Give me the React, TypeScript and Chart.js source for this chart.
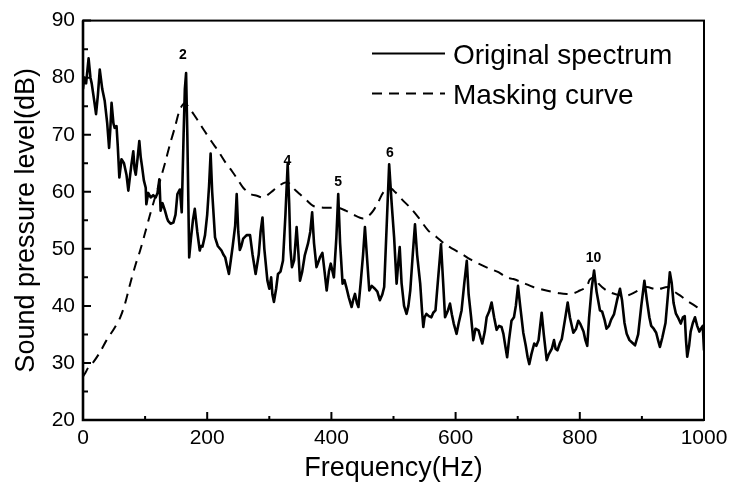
import React, { useEffect, useRef } from "react";
import { Chart, registerables } from "chart.js";

Chart.register(...registerables);

// ---- Data ----
const spectrumFreq = [
  0, 2, 5, 9, 12, 14, 18, 21, 24, 27, 31, 35, 39, 42, 44, 46, 49, 51, 54, 56,
  58.5, 62, 66, 70, 73, 76, 78, 81, 83, 85, 88, 90.7, 93, 95, 98, 101, 102, 105, 109, 113,
  117, 120, 123, 125, 128, 132, 135, 137, 141, 145.5, 149, 152, 156, 159, 162, 164, 166, 168, 171, 174,
  177, 180, 184, 188, 190, 192.5, 196.5, 200, 203, 205.5, 208, 212.6, 217, 223, 226, 229, 232, 235, 238, 241,
  245, 247.5, 250, 252.5, 255, 258, 263.5, 269, 273, 278, 283, 286, 289, 292, 297, 300, 303, 305, 307.5, 311,
  314, 318, 322, 326, 329.6, 332, 334, 336.5, 340, 344, 347, 349.4, 353, 357, 362.5, 366, 369, 372, 376, 380,
  382, 385.5, 389, 392.4, 396, 399, 404, 408, 411, 414, 418, 421, 424, 428, 432.6, 435, 438, 441, 443.5, 447,
  451, 454, 457, 461, 465, 470, 474, 478, 482, 485, 489, 493, 497, 501, 505, 508, 510, 513, 517, 521,
  524, 527, 531, 534.6, 538, 543, 546, 548, 550, 553, 557, 561, 564, 567.6, 572, 576.5, 580, 583, 587, 591,
  594, 597, 601.6, 605, 609.6, 614, 618, 621, 625, 628.5, 632, 637, 640, 643, 647, 650, 654, 658, 662, 666,
  670, 674, 677, 680, 683, 686, 690, 694, 697, 700.5, 704, 709, 713, 716, 718.7, 722, 726.6, 730, 733.6, 738.6,
  742, 746.7, 750, 755, 758.5, 761, 764, 768, 771, 776, 780.5, 784, 789.6, 794, 797.6, 801, 806, 809, 812, 815,
  819, 823, 827, 832.5, 836, 840, 843, 847, 850.5, 855, 860, 864.7, 868, 872, 875.5, 880, 885, 889, 894, 899,
  904, 908, 912, 915, 919, 923, 926, 929, 933, 938, 942, 945, 948, 951, 954.6, 958, 962.6, 966, 969, 971,
  973, 976, 978.5, 982, 985.5, 989, 992.5, 995, 998, 1000
];
const spectrumLevel = [
  78, 80, 79, 83.4, 80, 79, 76, 73.6, 77, 81.4, 78, 75.9, 72, 67.7, 71, 75.6, 72, 71.2, 71.5, 68,
  62.5, 65.7, 65, 63, 60.2, 63, 64.8, 67.1, 64, 63, 66, 68.9, 66, 64.5, 62, 60.7, 57.8, 59.8, 59, 59.4,
  59, 59.8, 62.2, 56.7, 58, 56.7, 55.5, 54.9, 54.4, 54.6, 56, 59.6, 60.4, 56.4, 70, 78, 80.8, 70, 48.5, 52,
  55, 57, 53, 49.7, 50.5, 50.4, 52.4, 56, 61, 66.7, 60, 52, 50.5, 49.7, 49, 48.5, 47, 45.6, 48, 50.4,
  54, 59.6, 53, 49.8, 50.5, 51.8, 52.4, 52.4, 49, 45.6, 49, 53, 55.5, 50, 44.4, 43, 45, 42, 40.7, 43,
  45.6, 46, 47.9, 56, 64.9, 58, 50, 46.8, 48, 53.8, 49, 44.4, 46, 48.8, 51, 53, 56.4, 51, 46.8, 48,
  48.6, 49.3, 46, 42.7, 46, 47.4, 45, 52, 59.6, 51, 43.9, 44.5, 43.3, 41.5, 39.8, 41, 42.1, 40.5, 39.8, 43.9,
  49, 53.8, 49, 42.7, 43.5, 43, 42.5, 41, 42, 43.3, 54, 64.8, 58, 52, 43.9, 48, 50.3, 44, 40, 38.6,
  40, 42.7, 49, 54.3, 49, 43.9, 39, 36.3, 38, 38.6, 38.2, 38, 38.8, 39.2, 45, 50.8, 44, 38, 39, 40.4,
  38.5, 36.9, 35.1, 37, 39.2, 44, 47.9, 42, 38, 34, 36, 35.7, 34.5, 33.4, 35.5, 38, 39, 40.6, 38, 35.8,
  36.5, 36.3, 35.1, 33, 31, 34, 37.4, 38, 40, 43.5, 40, 35.3, 33, 31, 29.8, 31.5, 33.4, 33, 34, 38.8,
  35, 30.5, 31.5, 32.5, 34, 32.5, 32.2, 33.5, 34.2, 37.5, 40.6, 38, 35.3, 36, 37.4, 36.8, 35.5, 34, 33, 38,
  43, 46.2, 42.5, 39.2, 39, 37.5, 36, 36.5, 37.6, 38.5, 41, 43, 41, 37, 35.1, 34, 33.5, 33.1, 35, 40,
  44.4, 41, 38, 36.5, 36, 35.3, 34, 32.8, 34.5, 37, 42, 45.9, 44, 40.5, 38.7, 38, 36.9, 38, 38.2, 34,
  31.1, 33, 35.5, 37, 38, 36.5, 35.5, 36, 36.5, 32.2
];

const maskFreq = [
  0, 5, 10, 17, 28, 38, 50, 60, 68, 76, 84, 92, 100, 108, 116, 124, 132, 140, 148, 156,
  164, 175, 186, 196, 207, 218, 229, 240, 250, 258, 270, 280, 290, 298, 306, 315, 325, 332, 340, 349,
  360, 371, 387, 400, 411, 423, 435, 451, 460, 467.5, 476, 483.6, 494, 503, 515, 527, 540, 556, 570, 583,
  597, 610, 623, 637, 653, 669, 682, 693, 710, 725, 746, 768, 779, 790, 800, 811, 816, 824.5, 831, 843,
  859, 875.5, 889, 898, 908, 924, 942.5, 952, 962, 971, 980, 990
];
const maskLevel = [
  27.6, 28.5, 29.5, 30.2, 32, 34, 36, 38, 40.5, 43.9, 47, 49.7, 52.8, 56, 59, 61.9, 65, 68.3, 71.3, 74.4,
  75.5, 74.1, 72.3, 70.6, 68.8, 67.1, 65.2, 63.6, 62, 60.7, 59.6, 59.3, 59, 59.5, 60.2, 61, 61.6, 61.5, 60.5, 59.6,
  58.5, 57.5, 57.2, 57.2, 57.2, 56.7, 56, 55.3, 55.8, 56.7, 58.3, 59.9, 60.7, 59.9, 58.5, 57.2, 55.5, 53.2, 52, 50.8,
  49.9, 49.1, 48.2, 47.4, 46.6, 45.9, 45, 44.7, 44, 43.3, 42.7, 42.2, 42.1, 42.2, 42.7, 43.3, 44.6, 45, 43.8, 42.7,
  42, 41.8, 42.4, 43, 43.3, 42.9, 43.3, 42.5, 41.8, 41, 40.4, 39.7
];

const xTickValues = [0, 200, 400, 600, 800, 1000];
const xMinorTicks = [100, 300, 500, 700, 900];
const yTickValues = [20, 30, 40, 50, 60, 70, 80, 90];
const yMinorTicks = [25, 35, 45, 55, 65, 75, 85];

const harmonicLabels = ["2", "4", "5", "6", "10"];
const harmonicFreq = [161, 329, 411, 494, 822];
const harmonicLevel = [84.1, 65.65, 61.9, 67.05, 48.5];

const seriesLabels = ["Original spectrum", "Masking curve"];
const xTitle = "Frequency(Hz)";
const yTitle = "Sound pressure level(dB)";

const FONT = "'Liberation Sans', Arial, Helvetica, sans-serif";

const decorPlugin = {
  id: "decor",
  afterDatasetsDraw(chart: any) {
    const { ctx, chartArea, scales } = chart;
    const xs = scales.x;
    const ys = scales.y;
    const { left, right, top, bottom } = chartArea;
    ctx.save();
    ctx.strokeStyle = "#000";
    ctx.fillStyle = "#000";

    // frame
    ctx.lineWidth = 2;
    ctx.strokeRect(left, top, right - left, bottom - top);
    ctx.lineWidth = 2.6;
    ctx.beginPath();
    ctx.moveTo(left, top);
    ctx.lineTo(left, bottom);
    ctx.lineTo(right, bottom);
    ctx.stroke();

    // inward ticks
    ctx.lineWidth = 2;
    ctx.beginPath();
    xTickValues.forEach((v) => {
      const px = xs.getPixelForValue(v);
      ctx.moveTo(px, bottom);
      ctx.lineTo(px, bottom - 8);
    });
    xMinorTicks.forEach((v) => {
      const px = xs.getPixelForValue(v);
      ctx.moveTo(px, bottom);
      ctx.lineTo(px, bottom - 4);
    });
    yTickValues.forEach((v) => {
      const py = ys.getPixelForValue(v);
      ctx.moveTo(left, py);
      ctx.lineTo(left + 8, py);
    });
    yMinorTicks.forEach((v) => {
      const py = ys.getPixelForValue(v);
      ctx.moveTo(left, py);
      ctx.lineTo(left + 5, py);
    });
    ctx.stroke();

    // harmonic labels
    ctx.font = `bold 14px ${FONT}`;
    ctx.textAlign = "center";
    ctx.textBaseline = "alphabetic";
    harmonicLabels.forEach((t, i) => {
      const px = xs.getPixelForValue(harmonicFreq[i]);
      const py = ys.getPixelForValue(harmonicLevel[i]);
      ctx.fillText(t, px, py + 5);
    });

    // legend
    const ds = chart.data.datasets;
    const lx0 = left + 289;
    const lx1 = left + 362;
    const tx = left + 370;
    const rows = [top + 33, top + 73];
    ctx.font = `28px ${FONT}`;
    ctx.textAlign = "left";
    ds.forEach((d: any, i: number) => {
      const y = rows[i];
      ctx.lineWidth = 2;
      ctx.setLineDash(d.borderDash || []);
      ctx.beginPath();
      ctx.moveTo(lx0, y);
      ctx.lineTo(lx1, y);
      ctx.stroke();
      ctx.setLineDash([]);
      ctx.fillText(d.label, tx, y + 10);
    });
    ctx.restore();
  },
};

export default function App() {
  const canvasRef = useRef<HTMLCanvasElement | null>(null);

  useEffect(() => {
    const canvas = canvasRef.current;
    if (!canvas) return;
    const chart = new Chart(canvas, {
      type: "line",
      data: {
        datasets: [
          {
            label: seriesLabels[0],
            data: spectrumFreq.map((x, i) => ({ x, y: spectrumLevel[i] })),
            borderColor: "#000",
            borderWidth: 2.6,
            pointRadius: 0,
            tension: 0,
            borderJoinStyle: "round",
            fill: false,
          },
          {
            label: seriesLabels[1],
            data: maskFreq.map((x, i) => ({ x, y: maskLevel[i] })),
            borderColor: "#000",
            borderWidth: 2,
            borderDash: [10, 7],
            pointRadius: 0,
            tension: 0.3,
            fill: false,
          },
        ],
      },
      options: {
        animation: false,
        responsive: false,
        maintainAspectRatio: false,
        layout: { padding: { top: 19, right: 30, left: 0, bottom: 0 } },
        plugins: {
          legend: { display: false },
          tooltip: { enabled: false },
        },
        scales: {
          x: {
            type: "linear",
            min: 0,
            max: 1000,
            afterBuildTicks: (s: any) => {
              s.ticks = xTickValues.map((v) => ({ value: v }));
            },
            afterFit: (s: any) => {
              s.height = 66;
            },
            grid: { display: false, drawTicks: false },
            border: { display: false },
            ticks: {
              color: "#000",
              font: { family: FONT, size: 21 },
              padding: 6,
              maxRotation: 0,
              autoSkip: false,
              callback: (v: any) => String(v),
            },
            title: {
              display: true,
              text: xTitle,
              color: "#000",
              font: { family: FONT, size: 27, lineHeight: 1 },
              padding: { top: 0, bottom: 4 },
            },
          },
          y: {
            type: "linear",
            min: 20,
            max: 90,
            afterBuildTicks: (s: any) => {
              s.ticks = yTickValues.map((v) => ({ value: v }));
            },
            afterFit: (s: any) => {
              s.width = 83;
            },
            grid: { display: false, drawTicks: false },
            border: { display: false },
            ticks: {
              color: "#000",
              font: { family: FONT, size: 21 },
              padding: 8,
              autoSkip: false,
              callback: (v: any) => String(v),
            },
            title: {
              display: true,
              text: yTitle,
              color: "#000",
              font: { family: FONT, size: 27, lineHeight: 1 },
              padding: { top: 13, bottom: 0 },
            },
          },
        },
      },
      plugins: [decorPlugin],
    } as any);
    return () => chart.destroy();
  }, []);

  return (
    <div style={{ position: "fixed", left: 0, top: 0, width: 734, height: 486, background: "#fff" }}>
      <canvas ref={canvasRef} width={734} height={486} style={{ display: "block" }} />
    </div>
  );
}
